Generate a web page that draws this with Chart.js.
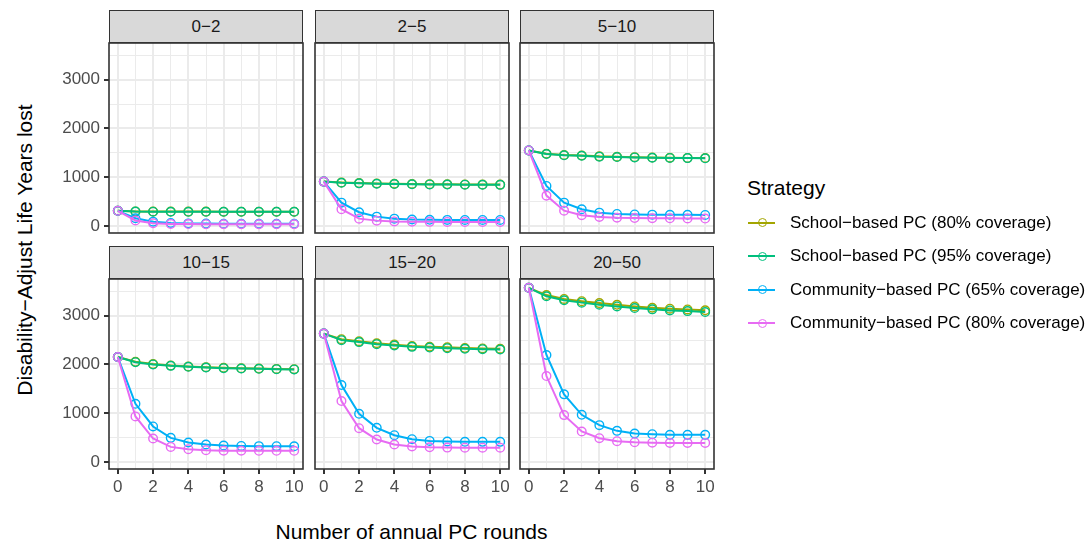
<!DOCTYPE html>
<html><head><meta charset="utf-8">
<script src="https://cdn.jsdelivr.net/npm/chart.js@4.4.1/dist/chart.umd.min.js"></script>
<style>
body{margin:0;width:1090px;height:542px;background:#fff;position:relative;overflow:hidden;font-family:'Liberation Sans',Arial,sans-serif;}
canvas{position:absolute}
.strip{position:absolute;box-sizing:border-box;background:#D9D9D9;border:1.5px solid #333;color:#1A1A1A;font-size:17px;display:flex;align-items:center;justify-content:center;}
.title{position:absolute;white-space:nowrap;color:#000;font-size:21px;line-height:21px;}
.lg-line{position:absolute;height:2px;width:27px;left:748px}
.lg-dot{position:absolute;width:9px;height:9px;box-sizing:border-box;border-radius:50%;left:757.5px;border:1.4px solid}
.lg-lab{position:absolute;left:790px;font-size:17px;line-height:20px;color:#000;white-space:nowrap}
</style>
</head><body>
<script>
// ---------- data ----------
const rounds = [0, 1, 2, 3, 4, 5, 6, 7, 8, 9, 10];
const ageGroups = ['0\u22122', '2\u22125', '5\u221210', '10\u221215', '15\u221220', '20\u221250'];
const strategies = [
  'School\u2212based PC (80% coverage)',
  'School\u2212based PC (95% coverage)',
  'Community\u2212based PC (65% coverage)',
  'Community\u2212based PC (80% coverage)'
];
const strategyColors = ['#A3A500', '#00BF7D', '#00B0F6', '#E76BF3'];
const yTicks = [0, 500, 1000, 1500, 2000, 2500, 3000, 3500];

// one row per age group (0-2, 2-5, 5-10, 10-15, 15-20, 20-50)
const school80 = [
  [310, 298, 296, 295, 294, 294, 293, 293, 293, 293, 293],
  [910, 892, 880, 872, 866, 861, 858, 855, 852, 850, 848],
  [1550, 1482, 1456, 1446, 1428, 1420, 1412, 1405, 1400, 1397, 1394],
  [2154, 2055, 2008, 1980, 1960, 1946, 1932, 1924, 1917, 1910, 1904],
  [2634, 2520, 2478, 2436, 2408, 2380, 2366, 2352, 2337, 2330, 2323],
  [3574, 3425, 3345, 3300, 3260, 3225, 3192, 3165, 3145, 3130, 3112]
];
const school95 = [
  [310, 294, 292, 291, 290, 290, 290, 290, 290, 290, 290],
  [910, 886, 874, 866, 860, 856, 852, 849, 847, 845, 843],
  [1550, 1476, 1450, 1440, 1422, 1414, 1406, 1400, 1395, 1392, 1388],
  [2154, 2048, 2001, 1972, 1952, 1938, 1925, 1918, 1911, 1905, 1898],
  [2634, 2500, 2460, 2418, 2390, 2362, 2348, 2336, 2322, 2315, 2308],
  [3574, 3400, 3318, 3270, 3228, 3192, 3158, 3132, 3110, 3096, 3078]
];
const community65 = [
  [310, 158, 88, 62, 52, 48, 46, 45, 45, 45, 45],
  [910, 478, 281, 191, 150, 132, 126, 124, 123, 123, 123],
  [1550, 821, 478, 343, 273, 246, 236, 232, 230, 228, 226],
  [2154, 1193, 728, 494, 399, 358, 337, 328, 324, 323, 322],
  [2634, 1578, 988, 700, 549, 467, 432, 419, 413, 412, 412],
  [3574, 2195, 1387, 967, 755, 638, 584, 570, 558, 556, 556]
];
const community80 = [
  [310, 112, 56, 42, 38, 36, 35, 35, 35, 35, 35],
  [910, 343, 150, 109, 92, 86, 84, 83, 83, 83, 83],
  [1550, 622, 314, 219, 185, 168, 162, 158, 156, 154, 152],
  [2154, 934, 481, 309, 261, 241, 232, 230, 229, 229, 229],
  [2634, 1249, 693, 461, 358, 317, 300, 294, 292, 292, 292],
  [3574, 1763, 961, 625, 488, 426, 405, 395, 391, 391, 391]
];
const seriesData = [school80, school95, community65, community80];

// ---------- layout ----------
const FONT = "'Liberation Sans', Arial, sans-serif";
Chart.defaults.font.family = FONT;
const PANEL_X = [109, 315, 520];
const PANEL_Y = [43, 279];
const STRIP_Y = [10, 246];
const PW = 194, PH = 190, SH = 33;
const Y_MIN = -145, Y_MAX = 3755;

const borderPlugin = {
  id: 'panelBorder',
  afterDraw(chart) {
    const { ctx, chartArea: a } = chart;
    ctx.save();
    ctx.strokeStyle = '#333333';
    ctx.lineWidth = 1.6;
    ctx.strokeRect(a.left, a.top, a.right - a.left, a.bottom - a.top);
    ctx.restore();
  }
};

function makePanel(idx) {
  const col = idx % 3, row = Math.floor(idx / 3);
  const px = PANEL_X[col], py = PANEL_Y[row];
  const showY = col === 0, showX = row === 1;
  const yW = showY ? 59 : 0;
  const padL = showY ? 0 : 2, padR = 12, padT = 2;
  const xH = showX ? 34 : 2;

  const cv = document.createElement('canvas');
  const W = padL + yW + PW + padR, H = padT + PH + xH;
  cv.width = W; cv.height = H;
  cv.style.width = W + 'px'; cv.style.height = H + 'px';
  cv.style.left = (px - yW - padL) + 'px';
  cv.style.top = (py - padT) + 'px';
  document.body.appendChild(cv);

  // strip
  const s = document.createElement('div');
  s.className = 'strip';
  s.style.left = px + 'px'; s.style.top = STRIP_Y[row] + 'px';
  s.style.width = PW + 'px'; s.style.height = SH + 'px';
  s.textContent = ageGroups[idx];
  document.body.appendChild(s);

  const datasets = strategies.map((name, k) => ({
    label: name,
    data: rounds.map((r, i) => ({ x: r, y: seriesData[k][idx][i] })),
    borderColor: strategyColors[k],
    backgroundColor: 'rgba(0,0,0,0)',
    pointBackgroundColor: 'rgba(0,0,0,0)',
    pointBorderColor: strategyColors[k],
    pointRadius: 4.3,
    pointBorderWidth: 1.4,
    borderWidth: 2,
    tension: 0,
    order: 4 - k
  }));

  const majorX = c => c.tick && c.tick.value % 2 === 0;
  const majorY = c => c.tick && c.tick.value % 1000 === 0;

  new Chart(cv, {
    type: 'line',
    data: { datasets },
    plugins: [borderPlugin],
    options: {
      responsive: false,
      animation: false,
      devicePixelRatio: 1,
      events: [],
      layout: { autoPadding: false, padding: { left: padL, right: padR, top: padT, bottom: 0 } },
      plugins: { legend: { display: false }, tooltip: { enabled: false } },
      scales: {
        x: {
          type: 'linear', min: -0.5, max: 10.5,
          afterBuildTicks: sc => { sc.ticks = rounds.map(v => ({ value: v })); },
          afterFit: sc => { sc.height = xH; sc.paddingLeft = 0; sc.paddingRight = 0; },
          border: { display: false },
          grid: {
            color: '#EBEBEB',
            lineWidth: c => majorX(c) ? 2 : 1,
            drawTicks: showX, tickLength: 5, tickWidth: 2,
            tickColor: c => majorX(c) ? '#333333' : 'rgba(0,0,0,0)'
          },
          ticks: {
            display: showX, autoSkip: false, maxRotation: 0, padding: 3,
            color: '#4D4D4D', font: { size: 17, family: FONT },
            callback: v => (v % 2 === 0 ? String(v) : '')
          }
        },
        y: {
          type: 'linear', min: Y_MIN, max: Y_MAX,
          afterBuildTicks: sc => { sc.ticks = yTicks.map(v => ({ value: v })); },
          afterFit: sc => { sc.width = yW; sc.paddingTop = 0; sc.paddingBottom = 0; },
          border: { display: false },
          grid: {
            color: '#EBEBEB',
            lineWidth: c => majorY(c) ? 2 : 1,
            drawTicks: showY, tickLength: 5, tickWidth: 2,
            tickColor: c => majorY(c) ? '#333333' : 'rgba(0,0,0,0)'
          },
          ticks: {
            display: showY, autoSkip: false, padding: 4,
            color: '#4D4D4D', font: { size: 17, family: FONT },
            callback: v => (v % 1000 === 0 ? String(v) : '')
          }
        }
      }
    }
  });
}

for (let i = 0; i < 6; i++) makePanel(i);

// axis titles
const yt = document.createElement('div');
yt.className = 'title';
yt.textContent = 'Disability\u2212Adjust Life Years lost';
yt.style.left = '24px'; yt.style.top = '250px';
yt.style.transform = 'translate(-50%,-50%) rotate(-90deg)';
document.body.appendChild(yt);

const xt = document.createElement('div');
xt.className = 'title';
xt.textContent = 'Number of annual PC rounds';
xt.style.left = '411.5px'; xt.style.top = '531px';
xt.style.transform = 'translate(-50%,-50%)';
document.body.appendChild(xt);

// legend
const lt = document.createElement('div');
lt.className = 'title';
lt.textContent = 'Strategy';
lt.style.left = '747px'; lt.style.top = '187px';
lt.style.transform = 'translate(0,-50%)';
document.body.appendChild(lt);

const legendY = [222.5, 256, 289.5, 323];
strategies.forEach((name, k) => {
  const y = legendY[k];
  const ln = document.createElement('div');
  ln.className = 'lg-line';
  ln.style.top = (y - 1) + 'px';
  ln.style.background = strategyColors[k];
  document.body.appendChild(ln);
  const dot = document.createElement('div');
  dot.className = 'lg-dot';
  dot.style.top = (y - 4.5) + 'px';
  dot.style.borderColor = strategyColors[k];
  document.body.appendChild(dot);
  const lb = document.createElement('div');
  lb.className = 'lg-lab';
  lb.style.top = (y - 10) + 'px';
  lb.textContent = name;
  document.body.appendChild(lb);
});
</script>
</body></html>
